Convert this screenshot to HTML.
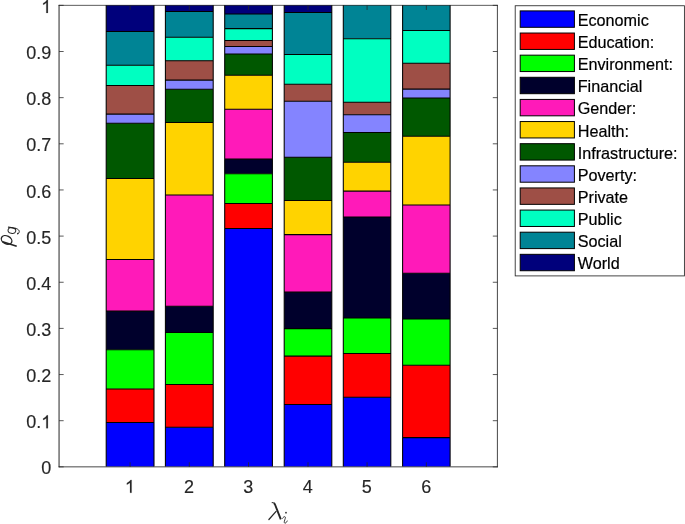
<!DOCTYPE html>
<html><head><meta charset="utf-8"><title>chart</title>
<style>html,body{margin:0;padding:0;background:#fff;}svg{display:block;will-change:transform}text{font-family:"Liberation Sans",sans-serif;}.s{font-family:"Liberation Serif",serif;font-style:italic}</style>
</head><body>
<svg width="685" height="524" viewBox="0 0 685 524">
<rect x="0" y="0" width="685" height="524" fill="#fff"/>
<g stroke="none" shape-rendering="auto">
<rect x="106.20" y="5.10" width="47.80" height="26.30" fill="#00007B"/>
<rect x="106.20" y="31.40" width="47.80" height="33.90" fill="#008495"/>
<rect x="106.20" y="65.30" width="47.80" height="20.10" fill="#00FFC1"/>
<rect x="106.20" y="85.40" width="47.80" height="28.70" fill="#9E4F46"/>
<rect x="106.20" y="114.10" width="47.80" height="9.20" fill="#8484FF"/>
<rect x="106.20" y="123.30" width="47.80" height="55.20" fill="#005800"/>
<rect x="106.20" y="178.50" width="47.80" height="80.90" fill="#FFD300"/>
<rect x="106.20" y="259.40" width="47.80" height="51.70" fill="#FF1AB9"/>
<rect x="106.20" y="311.10" width="47.80" height="38.60" fill="#00002C"/>
<rect x="106.20" y="349.70" width="47.80" height="39.20" fill="#00FF00"/>
<rect x="106.20" y="388.90" width="47.80" height="33.60" fill="#FF0000"/>
<rect x="106.20" y="422.50" width="47.80" height="44.10" fill="#0000FF"/>
<rect x="165.40" y="5.10" width="47.80" height="6.30" fill="#00007B"/>
<rect x="165.40" y="11.40" width="47.80" height="25.90" fill="#008495"/>
<rect x="165.40" y="37.30" width="47.80" height="23.40" fill="#00FFC1"/>
<rect x="165.40" y="60.70" width="47.80" height="19.40" fill="#9E4F46"/>
<rect x="165.40" y="80.10" width="47.80" height="9.20" fill="#8484FF"/>
<rect x="165.40" y="89.30" width="47.80" height="33.10" fill="#005800"/>
<rect x="165.40" y="122.40" width="47.80" height="72.60" fill="#FFD300"/>
<rect x="165.40" y="195.00" width="47.80" height="111.30" fill="#FF1AB9"/>
<rect x="165.40" y="306.30" width="47.80" height="26.10" fill="#00002C"/>
<rect x="165.40" y="332.40" width="47.80" height="52.10" fill="#00FF00"/>
<rect x="165.40" y="384.50" width="47.80" height="42.80" fill="#FF0000"/>
<rect x="165.40" y="427.30" width="47.80" height="39.30" fill="#0000FF"/>
<rect x="224.70" y="5.10" width="47.70" height="8.90" fill="#00007B"/>
<rect x="224.70" y="14.00" width="47.70" height="14.60" fill="#008495"/>
<rect x="224.70" y="28.60" width="47.70" height="11.90" fill="#00FFC1"/>
<rect x="224.70" y="40.50" width="47.70" height="6.00" fill="#9E4F46"/>
<rect x="224.70" y="46.50" width="47.70" height="7.50" fill="#8484FF"/>
<rect x="224.70" y="54.00" width="47.70" height="21.30" fill="#005800"/>
<rect x="224.70" y="75.30" width="47.70" height="33.90" fill="#FFD300"/>
<rect x="224.70" y="109.20" width="47.70" height="49.90" fill="#FF1AB9"/>
<rect x="224.70" y="159.10" width="47.70" height="14.60" fill="#00002C"/>
<rect x="224.70" y="173.70" width="47.70" height="29.80" fill="#00FF00"/>
<rect x="224.70" y="203.50" width="47.70" height="24.90" fill="#FF0000"/>
<rect x="224.70" y="228.40" width="47.70" height="238.20" fill="#0000FF"/>
<rect x="284.20" y="5.10" width="47.60" height="7.30" fill="#00007B"/>
<rect x="284.20" y="12.40" width="47.60" height="42.10" fill="#008495"/>
<rect x="284.20" y="54.50" width="47.60" height="29.80" fill="#00FFC1"/>
<rect x="284.20" y="84.30" width="47.60" height="16.90" fill="#9E4F46"/>
<rect x="284.20" y="101.20" width="47.60" height="56.00" fill="#8484FF"/>
<rect x="284.20" y="157.20" width="47.60" height="43.20" fill="#005800"/>
<rect x="284.20" y="200.40" width="47.60" height="34.20" fill="#FFD300"/>
<rect x="284.20" y="234.60" width="47.60" height="57.50" fill="#FF1AB9"/>
<rect x="284.20" y="292.10" width="47.60" height="36.50" fill="#00002C"/>
<rect x="284.20" y="328.60" width="47.60" height="27.50" fill="#00FF00"/>
<rect x="284.20" y="356.10" width="47.60" height="48.30" fill="#FF0000"/>
<rect x="284.20" y="404.40" width="47.60" height="62.20" fill="#0000FF"/>
<rect x="343.30" y="5.10" width="47.50" height="33.60" fill="#008495"/>
<rect x="343.30" y="38.70" width="47.50" height="63.50" fill="#00FFC1"/>
<rect x="343.30" y="102.20" width="47.50" height="12.60" fill="#9E4F46"/>
<rect x="343.30" y="114.80" width="47.50" height="17.70" fill="#8484FF"/>
<rect x="343.30" y="132.50" width="47.50" height="29.80" fill="#005800"/>
<rect x="343.30" y="162.30" width="47.50" height="28.80" fill="#FFD300"/>
<rect x="343.30" y="191.10" width="47.50" height="25.90" fill="#FF1AB9"/>
<rect x="343.30" y="217.00" width="47.50" height="101.00" fill="#00002C"/>
<rect x="343.30" y="318.00" width="47.50" height="35.40" fill="#00FF00"/>
<rect x="343.30" y="353.40" width="47.50" height="43.80" fill="#FF0000"/>
<rect x="343.30" y="397.20" width="47.50" height="69.40" fill="#0000FF"/>
<rect x="402.60" y="5.10" width="47.50" height="25.40" fill="#008495"/>
<rect x="402.60" y="30.50" width="47.50" height="32.70" fill="#00FFC1"/>
<rect x="402.60" y="63.20" width="47.50" height="25.90" fill="#9E4F46"/>
<rect x="402.60" y="89.10" width="47.50" height="8.90" fill="#8484FF"/>
<rect x="402.60" y="98.00" width="47.50" height="38.20" fill="#005800"/>
<rect x="402.60" y="136.20" width="47.50" height="68.80" fill="#FFD300"/>
<rect x="402.60" y="205.00" width="47.50" height="68.30" fill="#FF1AB9"/>
<rect x="402.60" y="273.30" width="47.50" height="45.70" fill="#00002C"/>
<rect x="402.60" y="319.00" width="47.50" height="46.30" fill="#00FF00"/>
<rect x="402.60" y="365.30" width="47.50" height="72.30" fill="#FF0000"/>
<rect x="402.60" y="437.60" width="47.50" height="29.00" fill="#0000FF"/>
</g>
<g stroke="#000" stroke-width="1.05" fill="none">
<path d="M106.20 5.10V466.60M154.00 5.10V466.60M105.70 31.40H154.50M105.70 65.30H154.50M105.70 85.40H154.50M105.70 114.10H154.50M105.70 123.30H154.50M105.70 178.50H154.50M105.70 259.40H154.50M105.70 311.10H154.50M105.70 349.70H154.50M105.70 388.90H154.50M105.70 422.50H154.50"/>
<path d="M165.40 5.10V466.60M213.20 5.10V466.60M164.90 11.40H213.70M164.90 37.30H213.70M164.90 60.70H213.70M164.90 80.10H213.70M164.90 89.30H213.70M164.90 122.40H213.70M164.90 195.00H213.70M164.90 306.30H213.70M164.90 332.40H213.70M164.90 384.50H213.70M164.90 427.30H213.70"/>
<path d="M224.70 5.10V466.60M272.40 5.10V466.60M224.20 14.00H272.90M224.20 28.60H272.90M224.20 40.50H272.90M224.20 46.50H272.90M224.20 54.00H272.90M224.20 75.30H272.90M224.20 109.20H272.90M224.20 159.10H272.90M224.20 173.70H272.90M224.20 203.50H272.90M224.20 228.40H272.90"/>
<path d="M284.20 5.10V466.60M331.80 5.10V466.60M283.70 12.40H332.30M283.70 54.50H332.30M283.70 84.30H332.30M283.70 101.20H332.30M283.70 157.20H332.30M283.70 200.40H332.30M283.70 234.60H332.30M283.70 292.10H332.30M283.70 328.60H332.30M283.70 356.10H332.30M283.70 404.40H332.30"/>
<path d="M343.30 5.10V466.60M390.80 5.10V466.60M342.80 38.70H391.30M342.80 102.20H391.30M342.80 114.80H391.30M342.80 132.50H391.30M342.80 162.30H391.30M342.80 191.10H391.30M342.80 217.00H391.30M342.80 318.00H391.30M342.80 353.40H391.30M342.80 397.20H391.30"/>
<path d="M402.60 5.10V466.60M450.10 5.10V466.60M402.10 30.50H450.60M402.10 63.20H450.60M402.10 89.10H450.60M402.10 98.00H450.60M402.10 136.20H450.60M402.10 205.00H450.60M402.10 273.30H450.60M402.10 319.00H450.60M402.10 365.30H450.60M402.10 437.60H450.60"/>
</g>
<g stroke="#262626" fill="none">
<line x1="59.05" y1="4.949999999999999" x2="59.05" y2="467.25" stroke-width="1.0"/>
<line x1="497.4" y1="4.949999999999999" x2="497.4" y2="467.25" stroke-width="0.85"/>
<line x1="58.55" y1="5.35" x2="497.79999999999995" y2="5.35" stroke-width="0.75"/>
<line x1="58.55" y1="466.85" x2="497.79999999999995" y2="466.85" stroke-width="0.85"/>
</g>
<g stroke="#262626" stroke-width="0.9" stroke-opacity="0.85">
<line x1="59.05" y1="466.85" x2="63.65" y2="466.85"/>
<line x1="497.4" y1="466.85" x2="492.79999999999995" y2="466.85"/>
<line x1="59.05" y1="420.70" x2="63.65" y2="420.70"/>
<line x1="497.4" y1="420.70" x2="492.79999999999995" y2="420.70"/>
<line x1="59.05" y1="374.55" x2="63.65" y2="374.55"/>
<line x1="497.4" y1="374.55" x2="492.79999999999995" y2="374.55"/>
<line x1="59.05" y1="328.40" x2="63.65" y2="328.40"/>
<line x1="497.4" y1="328.40" x2="492.79999999999995" y2="328.40"/>
<line x1="59.05" y1="282.25" x2="63.65" y2="282.25"/>
<line x1="497.4" y1="282.25" x2="492.79999999999995" y2="282.25"/>
<line x1="59.05" y1="236.10" x2="63.65" y2="236.10"/>
<line x1="497.4" y1="236.10" x2="492.79999999999995" y2="236.10"/>
<line x1="59.05" y1="189.95" x2="63.65" y2="189.95"/>
<line x1="497.4" y1="189.95" x2="492.79999999999995" y2="189.95"/>
<line x1="59.05" y1="143.80" x2="63.65" y2="143.80"/>
<line x1="497.4" y1="143.80" x2="492.79999999999995" y2="143.80"/>
<line x1="59.05" y1="97.65" x2="63.65" y2="97.65"/>
<line x1="497.4" y1="97.65" x2="492.79999999999995" y2="97.65"/>
<line x1="59.05" y1="51.50" x2="63.65" y2="51.50"/>
<line x1="497.4" y1="51.50" x2="492.79999999999995" y2="51.50"/>
<line x1="59.05" y1="5.35" x2="63.65" y2="5.35"/>
<line x1="497.4" y1="5.35" x2="492.79999999999995" y2="5.35"/>
<line x1="130.10" y1="466.85" x2="130.10" y2="462.25"/>
<line x1="130.10" y1="5.35" x2="130.10" y2="9.95"/>
<line x1="189.30" y1="466.85" x2="189.30" y2="462.25"/>
<line x1="189.30" y1="5.35" x2="189.30" y2="9.95"/>
<line x1="248.55" y1="466.85" x2="248.55" y2="462.25"/>
<line x1="248.55" y1="5.35" x2="248.55" y2="9.95"/>
<line x1="308.00" y1="466.85" x2="308.00" y2="462.25"/>
<line x1="308.00" y1="5.35" x2="308.00" y2="9.95"/>
<line x1="367.05" y1="466.85" x2="367.05" y2="462.25"/>
<line x1="367.05" y1="5.35" x2="367.05" y2="9.95"/>
<line x1="426.35" y1="466.85" x2="426.35" y2="462.25"/>
<line x1="426.35" y1="5.35" x2="426.35" y2="9.95"/>
</g>
<g fill="#262626" font-size="18.0" stroke="#262626" stroke-width="0.15">
<text x="51.2" y="474.40" text-anchor="end">0</text>
<text x="41.19" y="428.25" text-anchor="end">0.</text>
<path d="M763 0H583V1147Q518 1085 412 1023T223 930V1104Q373 1174 485 1275T644 1470H763Z" transform="translate(41.19,428.25) scale(0.008789,-0.008789)" stroke-width="20"/>
<text x="51.2" y="382.10" text-anchor="end">0.2</text>
<text x="51.2" y="335.95" text-anchor="end">0.3</text>
<text x="51.2" y="289.80" text-anchor="end">0.4</text>
<text x="51.2" y="243.65" text-anchor="end">0.5</text>
<text x="51.2" y="197.50" text-anchor="end">0.6</text>
<text x="51.2" y="151.35" text-anchor="end">0.7</text>
<text x="51.2" y="105.20" text-anchor="end">0.8</text>
<text x="51.2" y="59.05" text-anchor="end">0.9</text>
<path d="M763 0H583V1147Q518 1085 412 1023T223 930V1104Q373 1174 485 1275T644 1470H763Z" transform="translate(41.19,12.90) scale(0.008789,-0.008789)" stroke-width="20"/>
<path d="M763 0H583V1147Q518 1085 412 1023T223 930V1104Q373 1174 485 1275T644 1470H763Z" transform="translate(124.89,492.80) scale(0.008789,-0.008789)" stroke-width="20"/>
<text x="189.10" y="492.8" text-anchor="middle">2</text>
<text x="248.35" y="492.8" text-anchor="middle">3</text>
<text x="307.80" y="492.8" text-anchor="middle">4</text>
<text x="366.85" y="492.8" text-anchor="middle">5</text>
<text x="426.15" y="492.8" text-anchor="middle">6</text>
</g>
<g fill="none" stroke="#262626" stroke-linecap="round" stroke-linejoin="round">
<path d="M272.1 502.6 C272.9 502.5 273.5 502.6 274.0 503.0" stroke-width="1.0"/>
<path d="M273.9 503.1 C274.5 503.6 274.9 504.3 275.2 505.0 L280.8 519.4" stroke-width="1.9" stroke-linecap="butt"/>
<path d="M276.1 511.4 L268.9 519.5" stroke-width="1.25"/>
<path d="M282.6 518.3 C283.5 516.5 285.2 516.0 285.4 517.4 C285.5 518.6 284.0 521.0 284.3 522.5 C284.6 523.8 286.2 523.3 287.2 521.0" stroke-width="0.9"/>
<circle cx="286.0" cy="512.7" r="0.85" fill="#262626" stroke="none"/>
<ellipse cx="6.6" cy="239.9" rx="5.6" ry="3.9" transform="rotate(27 6.6 239.9)" stroke-width="1.35"/>
<path d="M2.6 241.7 L16.7 246.3" stroke-width="1.7" stroke-linecap="butt"/>
<ellipse cx="11.9" cy="230.5" rx="3.9" ry="2.9" transform="rotate(14 11.9 230.5)" stroke-width="1.0"/>
<path d="M8.5 227.1 L15.3 228.3" stroke-width="1.25"/>
<path d="M15.3 228.3 C18.4 228.9 19.8 230.8 19.1 232.4 C18.8 233.1 18.3 233.6 17.9 233.7" stroke-width="1.0"/>
<circle cx="17.8" cy="233.6" r="0.8" fill="#262626" stroke="none"/>
</g>
<rect x="515.2" y="5.75" width="169.2" height="270.15" fill="#fff" stroke="#262626" stroke-width="0.85"/>
<rect x="520.2" y="10.90" width="54.2" height="16.4" fill="#0000FF" stroke="#000" stroke-width="1"/>
<text x="577.7" y="25.90" font-size="16.2" fill="#000" stroke="#000" stroke-width="0.2">Economic</text>
<rect x="520.2" y="33.03" width="54.2" height="16.4" fill="#FF0000" stroke="#000" stroke-width="1"/>
<text x="577.7" y="48.03" font-size="16.2" fill="#000" stroke="#000" stroke-width="0.2">Education:</text>
<rect x="520.2" y="55.16" width="54.2" height="16.4" fill="#00FF00" stroke="#000" stroke-width="1"/>
<text x="577.7" y="70.16" font-size="16.2" fill="#000" stroke="#000" stroke-width="0.2">Environment:</text>
<rect x="520.2" y="77.29" width="54.2" height="16.4" fill="#00002C" stroke="#000" stroke-width="1"/>
<text x="577.7" y="92.29" font-size="16.2" fill="#000" stroke="#000" stroke-width="0.2">Financial</text>
<rect x="520.2" y="99.42" width="54.2" height="16.4" fill="#FF1AB9" stroke="#000" stroke-width="1"/>
<text x="577.7" y="114.42" font-size="16.2" fill="#000" stroke="#000" stroke-width="0.2">Gender:</text>
<rect x="520.2" y="121.55" width="54.2" height="16.4" fill="#FFD300" stroke="#000" stroke-width="1"/>
<text x="577.7" y="136.55" font-size="16.2" fill="#000" stroke="#000" stroke-width="0.2">Health:</text>
<rect x="520.2" y="143.68" width="54.2" height="16.4" fill="#005800" stroke="#000" stroke-width="1"/>
<text x="577.7" y="158.68" font-size="16.2" fill="#000" stroke="#000" stroke-width="0.2">Infrastructure:</text>
<rect x="520.2" y="165.81" width="54.2" height="16.4" fill="#8484FF" stroke="#000" stroke-width="1"/>
<text x="577.7" y="180.81" font-size="16.2" fill="#000" stroke="#000" stroke-width="0.2">Poverty:</text>
<rect x="520.2" y="187.94" width="54.2" height="16.4" fill="#9E4F46" stroke="#000" stroke-width="1"/>
<text x="577.7" y="202.94" font-size="16.2" fill="#000" stroke="#000" stroke-width="0.2">Private</text>
<rect x="520.2" y="210.07" width="54.2" height="16.4" fill="#00FFC1" stroke="#000" stroke-width="1"/>
<text x="577.7" y="225.07" font-size="16.2" fill="#000" stroke="#000" stroke-width="0.2">Public</text>
<rect x="520.2" y="232.20" width="54.2" height="16.4" fill="#008495" stroke="#000" stroke-width="1"/>
<text x="577.7" y="247.20" font-size="16.2" fill="#000" stroke="#000" stroke-width="0.2">Social</text>
<rect x="520.2" y="254.33" width="54.2" height="16.4" fill="#00007B" stroke="#000" stroke-width="1"/>
<text x="577.7" y="269.33" font-size="16.2" fill="#000" stroke="#000" stroke-width="0.2">World</text>
</svg>
</body></html>
